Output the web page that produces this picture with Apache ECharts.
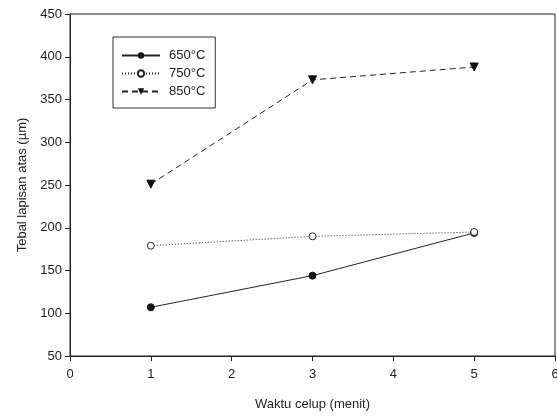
<!DOCTYPE html>
<html><head><meta charset="utf-8">
<script src="https://cdn.jsdelivr.net/npm/echarts@6/dist/echarts.min.js"></script>
<style>html,body{margin:0;padding:0;background:#fff}#c{width:557px;height:416px}</style>
</head><body><div id="c"></div>
<script>
var xValues = [1, 3, 5];
var s650 = [107, 144, 194];
var s750 = [179, 190, 195];
var s850 = [251, 373, 388];
var seriesNames = ['650°C', '750°C', '850°C'];

function pairs(v){ return xValues.map(function(x,i){ return [x, v[i]]; }); }
var font = 'Liberation Sans, Arial, sans-serif';
var chart = echarts.init(document.getElementById('c'));
chart.setOption({
  animation: false,
  grid: {left: 70, right: 2, top: 14, bottom: 60, show: true, borderColor: '#222', borderWidth: 1, outerBoundsMode: 'none', containLabel: false},
  legend: {
    orient: 'vertical', left: 113, top: 37,
    padding: [12, 10, 10, 8],
    borderColor: '#333', borderWidth: 1,
    itemWidth: 38, itemHeight: 8, itemGap: 5,
    textStyle: {fontFamily: font, fontSize: 13, color: '#222', padding: [0, 0, 0, 4]},
    data: seriesNames
  },
  xAxis: {
    type: 'value', min: 0, max: 6, interval: 1,
    name: 'Waktu celup (menit)', nameLocation: 'middle', nameGap: 42,
    nameTextStyle: {fontFamily: font, fontSize: 13, color: '#222'},
    axisLine: {lineStyle: {color: '#222'}},
    axisTick: {show: true, length: 5, lineStyle: {color: '#222'}},
    axisLabel: {fontFamily: font, fontSize: 13, color: '#222', margin: 12},
    splitLine: {show: false}
  },
  yAxis: {
    type: 'value', min: 50, max: 450, interval: 50,
    name: 'Tebal lapisan atas (µm)', nameLocation: 'middle', nameGap: 41,
    nameTextStyle: {fontFamily: font, fontSize: 13, color: '#222'},
    axisLine: {show: true, lineStyle: {color: '#222'}},
    axisTick: {show: true, length: 5, lineStyle: {color: '#222'}},
    axisLabel: {fontFamily: font, fontSize: 13, color: '#222', margin: 8},
    splitLine: {show: false}
  },
  series: [
    {name: seriesNames[0], type: 'line', data: pairs(s650), symbol: 'circle', symbolSize: 7,
     itemStyle: {color: '#111', borderColor: '#111'}, lineStyle: {color: '#222', width: 1, type: 'solid'}},
    {name: seriesNames[1], type: 'line', data: pairs(s750), symbol: 'circle', symbolSize: 7,
     itemStyle: {color: '#fff', borderColor: '#222', borderWidth: 1}, lineStyle: {color: '#222', width: 1, type: [1, 2]}},
    {name: seriesNames[2], type: 'line', data: pairs(s850), symbol: 'triangle', symbolSize: 8, symbolRotate: 180,
     itemStyle: {color: '#111', borderColor: '#111'}, lineStyle: {color: '#222', width: 1, type: [6, 4]}}
  ]
});
</script></body></html>
